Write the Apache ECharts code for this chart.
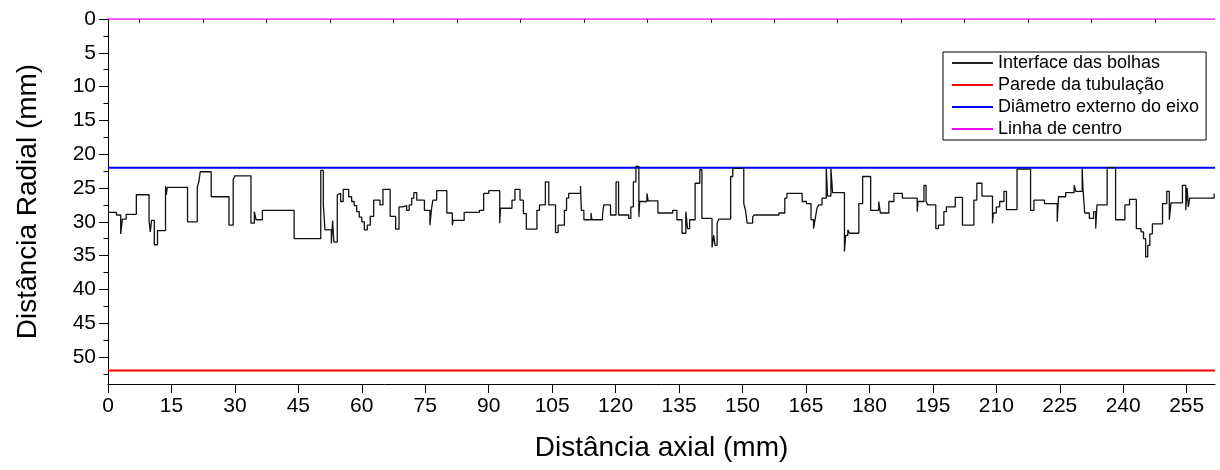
<!DOCTYPE html>
<html>
<head>
<meta charset="utf-8">
<script src="https://cdn.jsdelivr.net/npm/echarts@6/dist/echarts.min.js"></script>
<style>
  html, body { margin: 0; padding: 0; background: #fff; }
  #chart { width: 1220px; height: 470px; }
</style>
</head>
<body>
<div id="chart"></div>
<script>
// ---- data ----
const xTicks = [0, 15, 30, 45, 60, 75, 90, 105, 120, 135, 150, 165, 180, 195, 210, 225, 240, 255];
const xMinorTicks = [7.5, 22.5, 37.5, 52.5, 67.5, 82.5, 97.5, 112.5, 127.5, 142.5, 157.5, 172.5, 187.5, 202.5, 217.5, 232.5, 247.5];
const yTicks = [0, 5, 10, 15, 20, 25, 30, 35, 40, 45, 50];
const yMinorTicks = [2.5, 7.5, 12.5, 17.5, 22.5, 27.5, 32.5, 37.5, 42.5, 47.5, 52.5];

const seriesNames = ['Interface das bolhas', 'Parede da tubulação', 'Diâmetro externo do eixo', 'Linha de centro'];

// step-start x positions and radial levels of the bubble interface
const interfaceX = [0, 2.0, 3.0, 3.4, 4.3, 6.7, 9.7, 10.0, 10.3, 10.95, 11.7, 13.6, 13.8, 14.0, 18.8, 21.1, 21.5, 21.8, 24.4, 28.6,
  29.6, 30.0, 33.8, 34.6, 35.0, 36.5, 44.0, 50.3, 50.9, 51.3, 52.8, 53.1, 53.4, 54.2, 54.6, 55.0, 55.6, 56.9, 57.6, 58.2,
  58.8, 59.4, 60.0, 60.6, 61.3, 62.0, 62.8, 64.3, 65.0, 66.7, 68.0, 68.8, 69.7, 70.6, 71.2, 71.8, 72.3, 73.0, 74.8, 76.1,
  76.5, 76.8, 77.7, 80.1, 81.4, 81.6, 84.2, 87.8, 88.8, 90.0, 92.6, 92.8, 95.5, 96.2, 97.4, 98.2, 98.9, 101.4, 102.0, 103.4,
  104.2, 105.8, 106.4, 107.9, 108.4, 108.9, 111.7, 111.9, 112.5, 114.2, 114.4, 116.9, 117.2, 118.8, 120.1, 120.7, 123.1, 123.6, 124.2, 124.8,
  125.5, 125.7, 127.4, 127.7, 130.0, 133.5, 134.5, 135.7, 136.6, 137.0, 137.5, 138.8, 139.9, 140.4, 142.8, 143.2, 143.5, 144.0, 144.4, 147.2,
  147.7, 150.3, 150.7, 151.1, 152.4, 152.7, 158.6, 160.0, 160.5, 164.1, 165.1, 166.2, 166.8, 167.2, 167.6, 168.0, 168.8, 169.8, 170.1, 170.9,
  171.3, 174.1, 174.4, 174.9, 175.3, 177.5, 178.4, 180.3, 182.2, 182.6, 184.6, 185.8, 187.8, 191.3, 191.5, 192.9, 193.4, 193.8, 195.7, 196.3,
  197.6, 198.2, 200.3, 202.0, 204.7, 205.4, 206.6, 209.1, 209.3, 210.0, 210.8, 211.8, 212.4, 214.9, 218.1, 218.9, 221.4, 224.4, 224.7, 226.4,
  228.4, 228.8, 230.3, 230.5, 230.9, 232.0, 233.0, 233.5, 233.8, 236.2, 238.2, 240.4, 241.5, 243.1, 244.2, 244.8, 245.3, 245.8, 246.3, 246.9,
  249.3, 250.3, 250.9, 251.3, 254.0, 254.8, 255.1, 255.4, 255.7, 261.5];
const interfaceY = [28.6, 29.0, 31.8, 29.6, 28.9, 26.0, 29.8, 31.5, 29.8, 33.4, 31.3, 24.7, 26.0, 24.9, 30.0, 24.9, 24.0, 22.6, 26.3, 30.5,
  23.8, 23.2, 30.2, 28.5, 29.7, 28.3, 32.5, 22.4, 27.5, 31.2, 33.2, 29.8, 33.0, 26.0, 25.8, 27.0, 25.2, 26.3, 27.0, 27.6,
  28.5, 29.3, 30.0, 31.2, 30.5, 29.2, 26.8, 27.5, 25.2, 29.2, 31.1, 27.8, 27.6, 28.3, 27.5, 26.5, 25.7, 26.8, 28.3, 30.5,
  28.0, 26.8, 25.4, 28.7, 30.5, 29.8, 28.6, 28.3, 25.8, 25.4, 30.2, 28.0, 26.8, 25.2, 26.8, 28.8, 31.1, 28.3, 27.5, 24.1,
  27.5, 31.6, 30.5, 28.3, 26.5, 25.8, 24.7, 28.3, 29.7, 28.7, 29.7, 29.0, 27.5, 29.0, 24.1, 29.0, 29.5, 27.8, 24.1, 21.8,
  29.3, 27.0, 25.8, 26.9, 28.7, 28.3, 29.7, 31.7, 28.5, 31.0, 29.7, 24.3, 22.3, 29.5, 33.8, 32.0, 33.5, 30.2, 29.6, 23.3,
  22.1, 27.3, 28.3, 30.2, 29.3, 29.0, 28.7, 26.5, 25.8, 27.0, 27.3, 29.7, 31.0, 29.5, 28.0, 27.5, 26.5, 22.1, 26.2, 22.1,
  25.7, 34.4, 32.0, 31.2, 31.7, 27.3, 23.3, 28.3, 27.0, 28.7, 27.0, 25.8, 26.5, 28.5, 27.0, 24.6, 27.0, 27.5, 31.0, 30.5,
  28.5, 27.8, 26.4, 30.5, 26.8, 24.3, 26.2, 30.2, 28.7, 27.8, 27.0, 25.5, 28.2, 22.2, 28.3, 26.8, 27.3, 30.0, 26.3, 25.7,
  24.6, 25.5, 22.1, 25.3, 28.7, 29.5, 28.5, 31.0, 27.5, 22.0, 29.7, 27.5, 26.7, 31.0, 31.5, 32.5, 35.2, 33.5, 31.8, 30.3,
  27.3, 25.5, 29.7, 27.2, 24.6, 28.3, 25.0, 27.8, 26.5, 25.8];

// reference horizontal lines (radial distance, mm)
const wallRadius = 52;      // Parede da tubulação
const shaftRadius = 22;     // Diâmetro externo do eixo
const centerRadius = 0;     // Linha de centro
const xRange = [0, 261.7];
const yRange = [0, 54];

// ---- chart ----
const FONT = '"Liberation Sans", Arial, sans-serif';
const chart = echarts.init(document.getElementById('chart'), null, { renderer: 'canvas' });

const interfaceData = interfaceX.map((x, i) => [x, interfaceY[i]]);
const hLine = (r) => [[xRange[0], r], [xRange[1], r]];

const option = {
  backgroundColor: '#ffffff',
  animation: false,
  textStyle: { fontFamily: FONT },
  grid: { left: 108, right: 5, top: 19, bottom: 86, containLabel: false },
  legend: {
    orient: 'vertical',
    left: 943,
    top: 52,
    padding: [0, 7, 0, 9],
    icon: 'rect',
    itemWidth: 41,
    itemHeight: 2,
    itemGap: 0,
    borderColor: '#000',
    borderWidth: 1,
    backgroundColor: '#fff',
    data: seriesNames,
    textStyle: { fontFamily: FONT, fontSize: 18, color: '#000', lineHeight: 22 }
  },
  xAxis: [
    {
      type: 'value', min: xRange[0], max: xRange[1],
      name: 'Distância axial (mm)', nameLocation: 'middle', nameGap: 50,
      nameTextStyle: { fontFamily: FONT, fontSize: 28, color: '#000' },
      axisLine: { show: true, onZero: false, lineStyle: { color: '#000', width: 1 } },
      axisTick: { show: true, inside: false, length: 9, customValues: xTicks, lineStyle: { color: '#000' } },
      axisLabel: { show: true, customValues: xTicks, margin: 12, fontFamily: FONT, fontSize: 21, color: '#000' },
      splitLine: { show: false }
    },
    {
      type: 'value', min: xRange[0], max: xRange[1], position: 'bottom',
      axisLine: { show: false },
      axisTick: { show: true, inside: false, length: 4, customValues: xMinorTicks, lineStyle: { color: '#000' } },
      axisLabel: { show: false },
      splitLine: { show: false }
    }
  ],
  yAxis: [
    {
      type: 'value', inverse: true, min: yRange[0], max: yRange[1],
      name: 'Distância Radial (mm)', nameLocation: 'middle', nameGap: 66,
      nameTextStyle: { fontFamily: FONT, fontSize: 28, color: '#000' },
      axisLine: { show: true, onZero: false, lineStyle: { color: '#000', width: 1 } },
      axisTick: { show: true, inside: false, length: 9, customValues: yTicks, lineStyle: { color: '#000' } },
      axisLabel: { show: true, customValues: yTicks, margin: 12, fontFamily: FONT, fontSize: 21, color: '#000' },
      splitLine: { show: false }
    },
    {
      type: 'value', inverse: true, min: yRange[0], max: yRange[1], position: 'left',
      axisLine: { show: false },
      axisTick: { show: true, inside: false, length: 4.5, customValues: yMinorTicks, lineStyle: { color: '#000' } },
      axisLabel: { show: false },
      splitLine: { show: false }
    }
  ],
  series: [
    {
      name: seriesNames[0], type: 'line', step: 'end', symbol: 'none',
      data: interfaceData,
      lineStyle: { color: '#111', width: 1.3 },
      itemStyle: { color: '#222' },
      z: 3
    },
    {
      name: seriesNames[1], type: 'line', symbol: 'none', data: hLine(wallRadius),
      lineStyle: { color: '#ff0000', width: 2 }, itemStyle: { color: '#ff0000' }, z: 2
    },
    {
      name: seriesNames[2], type: 'line', symbol: 'none', data: hLine(shaftRadius),
      lineStyle: { color: '#0000ff', width: 2 }, itemStyle: { color: '#0000ff' }, z: 2
    },
    {
      name: seriesNames[3], type: 'line', symbol: 'none', data: hLine(centerRadius),
      lineStyle: { color: '#ff00ff', width: 1.5 }, itemStyle: { color: '#ff00ff' }, z: 2
    }
  ]
};
chart.setOption(option);
</script>
</body>
</html>
